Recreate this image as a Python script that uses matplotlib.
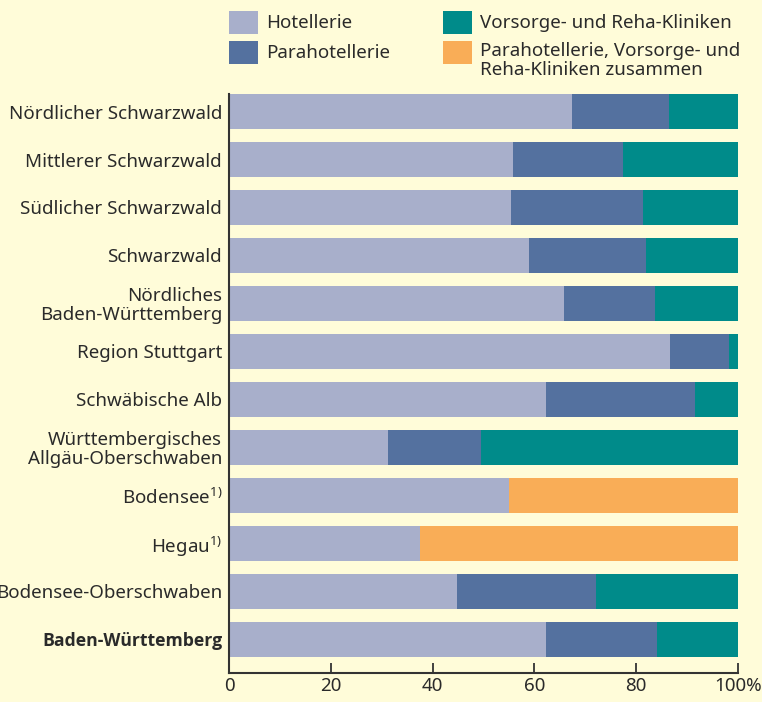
import matplotlib
matplotlib.use("Agg")
import matplotlib.pyplot as plt
from matplotlib.patches import Rectangle
import numpy as np

plt.rcParams['font.family'] = ['Noto Sans', 'DejaVu Sans']

regions = ["Nördlicher Schwarzwald", "Mittlerer Schwarzwald", "Südlicher Schwarzwald",
           "Schwarzwald", "Nördliches\nBaden-Württemberg", "Region Stuttgart",
           "Schwäbische Alb", "Württembergisches\nAllgäu-Oberschwaben",
           r"Bodensee$^{\mathregular{1)}}$", r"Hegau$^{\mathregular{1)}}$",
           "Bodensee-Oberschwaben", "Baden-Württemberg"]
hotellerie     = [67.4, 55.8, 55.4, 58.9, 65.8, 86.6, 62.3, 31.2, 55.0, 37.5, 44.8, 62.3]
parahotellerie = [19.0, 21.6, 25.9, 23.0, 17.9, 11.6, 29.3, 18.3, 0.0, 0.0, 27.3, 21.8]
vorsorge       = [13.6, 22.6, 18.7, 18.1, 16.3, 1.8, 8.4, 50.5, 0.0, 0.0, 27.9, 15.9]
zusammen       = [0.0, 0.0, 0.0, 0.0, 0.0, 0.0, 0.0, 0.0, 45.0, 62.5, 0.0, 0.0]
xticks = [0, 20, 40, 60, 80, 100]
xticklabels = ["0", "20", "40", "60", "80", "100%"]
legend_labels = ["Hotellerie", "Parahotellerie", "Vorsorge- und Reha-Kliniken",
                 "Parahotellerie, Vorsorge- und\nReha-Kliniken zusammen"]

c_hotel = "#a8afcb"
c_para = "#54719f"
c_vors = "#008b8a"
c_zus = "#f9ad57"
bg = "#fffcd9"
txt = "#2a2a2a"
FS = 13.5

fig = plt.figure(figsize=(7.62, 7.02), dpi=100, facecolor=bg)
ax = fig.add_axes([229/762, 1-673/702, (738-229)/762, (673-94)/702])
ax.set_facecolor(bg)

y = np.arange(len(regions))
h = 0.73
left = np.zeros(len(regions))
for vals, col in [(hotellerie, c_hotel), (parahotellerie, c_para), (vorsorge, c_vors), (zusammen, c_zus)]:
    v = np.array(vals)
    ax.barh(y, v, left=left, height=h, color=col, edgecolor='none')
    left += v

ax.set_xlim(0, 100)
ax.set_ylim(11.70, -0.365)
ax.tick_params(axis='y', length=0, pad=5)
ax.tick_params(axis='x', direction='in', length=7, width=1.3, color="#333333", pad=3)
ax.set_yticks(y)
ax.set_yticklabels(regions, fontsize=FS, color=txt, linespacing=1.05)
ax.set_xticks(xticks)
ax.set_xticklabels(xticklabels, fontsize=FS, color=txt)
for s in ['top', 'right']:
    ax.spines[s].set_visible(False)
for s in ['left', 'bottom']:
    ax.spines[s].set_linewidth(1.5)
    ax.spines[s].set_color("#333333")
for lab in ax.get_yticklabels():
    if lab.get_text() == "Baden-Württemberg":
        lab.set_family(['Open Sans', 'DejaVu Sans'])
        lab.set_fontweight('bold')
        lab.set_fontsize(12.7)

# legend
W, H = 762, 702
def patch(x, ytop, color):
    fig.add_artist(Rectangle((x/W, 1-(ytop+23)/H), 29/W, 23/H, transform=fig.transFigure,
                             facecolor=color, edgecolor='none'))

patch(229, 11, c_hotel)
patch(229, 41, c_para)
patch(443, 11, c_vors)
patch(443, 41, c_zus)
fig.text(266/W, 1-22.5/H, legend_labels[0], fontsize=FS, color=txt, va='center', ha='left')
fig.text(266/W, 1-52.5/H, legend_labels[1], fontsize=FS, color=txt, va='center', ha='left')
fig.text(480/W, 1-22.5/H, legend_labels[2], fontsize=FS, color=txt, va='center', ha='left')
fig.text(480/W, 1-42/H, legend_labels[3], fontsize=FS, color=txt, va='top', ha='left', linespacing=1.1)

fig.savefig("out.png", dpi=100, facecolor=bg)
